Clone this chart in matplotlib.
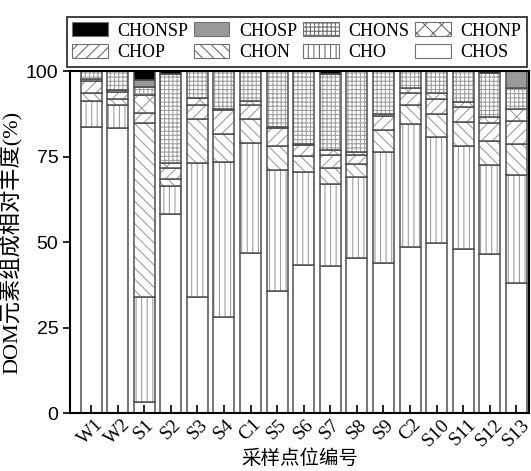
import numpy as np
import matplotlib
matplotlib.use('Agg')
import matplotlib.pyplot as plt

# Sites d'échantillonnage
sites = ['W1', 'W2', 'S1', 'S2', 'S3', 'S4', 'C1', 'S5', 'S6', 'S7', 'S8', 'S9',
         'C2', 'S10', 'S11', 'S12', 'S13']

# Abondance relative (%) de chaque classe, du bas vers le haut de la pile
CHOS = [83.8, 83.3, 3.4, 58.3, 34.1, 28.2, 46.8, 35.9, 43.4, 43.2, 45.5, 44.1, 48.5, 49.7, 48.1, 46.5, 38.0]
CHO = [7.5, 7.0, 30.7, 8.2, 39.2, 45.2, 32.3, 35.2, 27.2, 23.8, 23.5, 32.3, 36.0, 31.1, 30.1, 26.1, 31.6]
CHON = [2.3, 1.5, 50.9, 1.9, 12.8, 8.2, 6.9, 7.1, 4.6, 4.8, 3.8, 6.4, 5.8, 6.6, 7.0, 7.0, 9.3]
CHOP = [3.6, 2.2, 2.9, 3.4, 4.2, 7.0, 4.3, 5.2, 3.2, 3.6, 2.6, 4.1, 3.5, 4.6, 4.4, 5.2, 6.6]
CHONP = [0.6, 0.5, 5.1, 1.3, 1.8, 0.5, 1.0, 0.4, 0.5, 1.6, 1.0, 0.5, 1.3, 1.6, 1.4, 1.9, 3.4]
CHONS = [2.2, 5.5, 2.5, 26.2, 7.9, 10.9, 8.7, 16.2, 21.1, 22.3, 23.6, 12.6, 4.9, 6.4, 9.0, 12.8, 6.3]
CHOSP = [0, 0, 2.0, 0, 0, 0, 0, 0, 0, 0, 0, 0, 0, 0, 0, 0, 4.8]
CHONSP = [0, 0, 2.5, 0.7, 0, 0, 0, 0, 0, 0.7, 0, 0, 0, 0, 0, 0.5, 0]

series = [
    ('CHOS', CHOS, 'white', ''),
    ('CHO', CHO, 'white', '|||'),
    ('CHON', CHON, 'white', '\\\\\\'),
    ('CHOP', CHOP, 'white', '///'),
    ('CHONP', CHONP, 'white', 'xx'),
    ('CHONS', CHONS, 'white', '++++'),
    ('CHOSP', CHOSP, '#999999', ''),
    ('CHONSP', CHONSP, 'black', ''),
]

plt.rcParams['hatch.linewidth'] = 0.8
plt.rcParams['font.family'] = ['Liberation Serif', 'Noto Sans CJK SC']

fig = plt.figure(figsize=(5.31, 4.71), dpi=100)
ax = fig.add_axes([0.132, 0.1225, 0.864, 0.726])

x = np.arange(len(sites))
width = 0.79
bottom = np.zeros(len(sites))
handles = {}
for name, vals, color, hatch in series:
    vals = np.array(vals, dtype=float)
    # remplissage + hachures en gris clair
    ax.bar(x, vals, width, bottom=bottom, color=color, hatch=hatch,
           edgecolor='#a0a0a0', linewidth=0)
    # contour des segments en gris foncé
    ax.bar(x, vals, width, bottom=bottom, fill=False,
           edgecolor='#505050', linewidth=1.1)
    handles[name] = plt.Rectangle((0, 0), 1, 1, facecolor=color, hatch=hatch,
                                  edgecolor='#707070', linewidth=0.8)
    bottom += vals

ax.set_xlim(-0.79, 16.47)
ax.set_ylim(0, 100)
ax.set_yticks([0, 25, 50, 75, 100])
ax.set_yticklabels(['0', '25', '50', '75', '100'], family='Liberation Sans', fontsize=14)
ax.set_xticks(x)
ax.set_xticklabels(sites, rotation=45, fontsize=14)
ax.tick_params(axis='y', direction='out', length=5, width=1.2)
ax.tick_params(axis='x', direction='in', length=6, width=1.2, pad=2)
for sp in ax.spines.values():
    sp.set_linewidth(1.5)

ax.set_ylabel('DOM元素组成相对丰度(%)', fontsize=16)
ax.yaxis.set_label_coords(-0.103, 0.5)
ax.set_xlabel('采样点位编号', fontsize=14, labelpad=0)

# Légende sur 2 lignes x 4 colonnes au-dessus du graphique
order = ['CHONSP', 'CHOP', 'CHOSP', 'CHON', 'CHONS', 'CHO', 'CHONP', 'CHOS']
leg = fig.legend([handles[k] for k in order], order, ncol=4, loc='lower left',
                 bbox_to_anchor=(0.126, 0.858, 0.866, 0.109), mode='expand',
                 fontsize=13, frameon=True, fancybox=False, edgecolor='black',
                 handlelength=1.95, handleheight=0.85, handletextpad=0.55,
                 columnspacing=0.4, labelspacing=0.25, borderpad=0.3,
                 borderaxespad=0)
leg.get_frame().set_linewidth(1.3)

plt.savefig('out.png', dpi=100)
